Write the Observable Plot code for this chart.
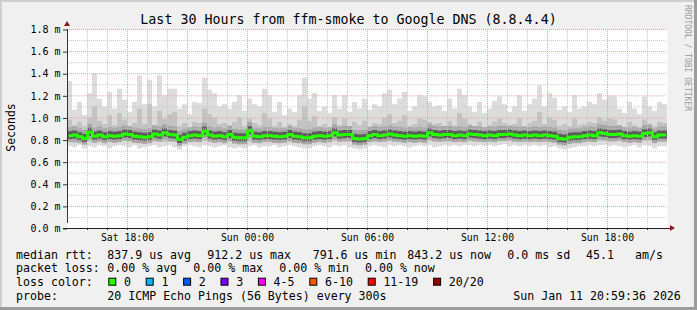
<!DOCTYPE html>
<html><head><meta charset="utf-8">
<script src="https://cdn.jsdelivr.net/npm/d3@7"></script>
<script src="https://cdn.jsdelivr.net/npm/@observablehq/plot@0.6"></script>
<style>html,body{margin:0;padding:0;background:#f0f0f0;} #chart svg{display:block}</style>
</head><body><div id="chart"></div>
<script>
// ---- data ----
const startTime = "2026-01-10T15:00:00Z";
const endTime = "2026-01-11T21:00:00Z";
const stepMinutes = 15;

const medianRtt = [
0.840,0.845,0.830,0.815,0.870,0.835,0.845,0.830,0.840,0.835,
0.840,0.855,0.850,0.835,0.830,0.825,0.830,0.855,0.845,0.865,
0.850,0.845,0.805,0.825,0.840,0.845,0.840,0.880,0.845,0.835,
0.840,0.830,0.850,0.825,0.820,0.820,0.885,0.835,0.830,0.840,
0.840,0.835,0.830,0.835,0.850,0.835,0.830,0.820,0.820,0.835,
0.840,0.835,0.840,0.865,0.845,0.850,0.850,0.815,0.810,0.815,
0.840,0.850,0.840,0.845,0.855,0.845,0.840,0.835,0.840,0.835,
0.840,0.835,0.865,0.850,0.845,0.850,0.850,0.840,0.845,0.840,
0.855,0.850,0.845,0.840,0.845,0.840,0.850,0.850,0.855,0.845,
0.840,0.845,0.840,0.845,0.840,0.845,0.840,0.835,0.815,0.810,
0.825,0.830,0.830,0.840,0.845,0.840,0.865,0.860,0.850,0.850,
0.855,0.840,0.835,0.840,0.835,0.860,0.865,0.830,0.845,0.845];

const smokeMax = [
1.33,1.07,1.14,1.02,1.22,1.40,1.17,1.10,1.23,1.08,
1.26,1.16,1.05,1.14,1.38,1.12,1.34,1.10,1.38,1.20,
1.26,1.26,1.08,1.12,1.03,1.14,1.13,1.36,1.25,1.22,
1.10,1.12,1.08,1.14,1.20,1.06,1.17,1.12,1.10,1.26,
1.20,1.05,1.14,1.02,1.08,1.05,1.20,1.36,1.17,1.22,
1.06,1.10,1.04,1.20,1.08,1.20,1.05,1.14,1.08,1.17,
1.07,1.12,1.10,1.22,1.25,1.12,1.17,1.23,1.06,1.10,
1.20,1.19,1.14,1.10,1.11,1.06,1.17,1.08,1.26,1.20,
1.10,1.05,1.14,1.04,1.08,1.15,1.19,1.12,1.05,1.10,
1.20,1.06,1.12,1.17,1.29,1.10,1.22,1.18,1.07,1.10,
1.05,1.20,1.08,1.10,1.14,1.12,1.22,1.16,1.20,1.19,
1.08,1.04,1.14,1.08,1.03,1.19,1.10,1.06,1.14,1.12];

const smokeUpper = [
0.98,0.93,0.96,0.92,1.00,1.10,0.97,0.94,1.02,0.93,
1.04,0.98,0.92,0.95,1.08,0.94,1.12,0.93,1.06,0.99,
1.03,1.05,0.92,0.95,0.91,0.96,0.95,1.08,1.03,1.00,
0.94,0.95,0.93,0.96,1.00,0.92,0.99,0.95,0.93,1.04,
0.99,0.92,0.96,0.91,0.94,0.92,0.98,1.10,0.97,1.01,
0.92,0.94,0.91,1.00,0.93,0.99,0.92,0.96,0.93,0.97,
0.92,0.95,0.94,1.00,1.03,0.95,0.97,1.02,0.92,0.94,
0.99,0.98,0.96,0.94,0.95,0.92,0.97,0.93,1.04,0.99,
0.94,0.92,0.96,0.91,0.93,0.96,0.99,0.95,0.92,0.94,
0.99,0.92,0.95,0.97,1.05,0.94,1.00,0.98,0.92,0.94,
0.92,0.99,0.93,0.94,0.96,0.95,1.00,0.97,0.99,0.98,
0.93,0.91,0.96,0.93,0.91,0.98,0.94,0.92,0.96,0.95];

const smokeLower = [
0.78,0.77,0.78,0.76,0.78,0.77,0.78,0.77,0.78,0.77,
0.78,0.79,0.78,0.77,0.77,0.76,0.77,0.78,0.78,0.78,
0.78,0.78,0.75,0.77,0.78,0.78,0.78,0.79,0.78,0.77,
0.78,0.77,0.78,0.77,0.76,0.76,0.78,0.77,0.77,0.78,
0.78,0.77,0.77,0.77,0.78,0.77,0.77,0.76,0.76,0.77,
0.78,0.77,0.78,0.79,0.78,0.78,0.78,0.76,0.75,0.76,
0.78,0.78,0.78,0.78,0.79,0.78,0.78,0.77,0.78,0.77,
0.78,0.77,0.79,0.78,0.78,0.78,0.78,0.78,0.78,0.78,
0.79,0.78,0.78,0.78,0.78,0.78,0.79,0.79,0.79,0.78,
0.78,0.78,0.78,0.78,0.78,0.78,0.78,0.77,0.76,0.75,
0.76,0.77,0.77,0.78,0.78,0.78,0.79,0.79,0.78,0.78,
0.79,0.78,0.77,0.78,0.77,0.79,0.79,0.77,0.78,0.78];

const smokeMin = [
0.74,0.73,0.75,0.72,0.74,0.73,0.75,0.74,0.72,0.74,
0.75,0.74,0.73,0.75,0.72,0.73,0.74,0.75,0.73,0.74,
0.75,0.73,0.71,0.74,0.75,0.74,0.73,0.75,0.74,0.73,
0.74,0.75,0.73,0.72,0.73,0.72,0.74,0.75,0.73,0.74,
0.74,0.75,0.73,0.74,0.75,0.74,0.73,0.72,0.72,0.74,
0.75,0.74,0.73,0.75,0.74,0.75,0.73,0.72,0.71,0.72,
0.74,0.75,0.74,0.73,0.75,0.74,0.75,0.74,0.73,0.74,
0.75,0.74,0.75,0.73,0.74,0.75,0.74,0.75,0.74,0.75,
0.75,0.74,0.75,0.74,0.75,0.74,0.75,0.76,0.74,0.75,
0.74,0.75,0.74,0.75,0.74,0.75,0.73,0.74,0.72,0.71,
0.72,0.73,0.74,0.74,0.75,0.74,0.75,0.75,0.74,0.75,
0.74,0.73,0.74,0.75,0.73,0.75,0.74,0.72,0.74,0.74];

const yTickValues = [0, 0.2, 0.4, 0.6, 0.8, 1.0, 1.2, 1.4, 1.6, 1.8];
const yTickLabels = ["0.0 m","0.2 m","0.4 m","0.6 m","0.8 m","1.0 m","1.2 m","1.4 m","1.6 m","1.8 m"];
const yMinorValues = [0.1, 0.3, 0.5, 0.7, 0.9, 1.1, 1.3, 1.5, 1.7];
const xTickTimes = ["2026-01-10T18:00:00Z","2026-01-11T00:00:00Z","2026-01-11T06:00:00Z","2026-01-11T12:00:00Z","2026-01-11T18:00:00Z"];
const xTickLabels = ["Sat 18:00","Sun 00:00","Sun 06:00","Sun 12:00","Sun 18:00"];

const titleText = "Last 30 Hours from ffm-smoke to Google DNS (8.8.4.4)";
const yAxisTitle = "Seconds";
const creditText = "RRDTOOL / TOBI OETIKER";
const rttLabel = "median rtt:";
const rttStats = ["837.9 us avg", "912.2 us max", "791.6 us min", "843.2 us now", "0.0 ms sd", "45.1", "am/s"];
const lossLabel = "packet loss:";
const lossStats = ["0.00 % avg", "0.00 % max", "0.00 % min", "0.00 % now"];
const lossColorLabel = "loss color:";
const lossLabels = ["0","1","2","3","4-5","6-10","11-19","20/20"];
const lossColors = ["#26ff00","#00b8ff","#0059ff","#7e00ff","#ff00f0","#ff5500","#ff0000","#a10000"];
const probeLabel = "probe:";
const probeText = "20 ICMP Echo Pings (56 Bytes) every 300s";
const stampText = "Sun Jan 11 20:59:36 2026";

// ---- build ----
const t0 = new Date(startTime).getTime(), tEnd = new Date(endTime).getTime();
const stepMs = stepMinutes * 60000;
const bins = medianRtt.map((m, i) => ({
  t0: new Date(t0 + i * stepMs), t1: new Date(t0 + (i + 1) * stepMs), tc: new Date(t0 + (i + 0.5) * stepMs),
  med: m, hi: smokeMax[i], up: smokeUpper[i], dn: smokeLower[i], lo: smokeMin[i]
}));
const hourTicks = d3.utcHour.range(new Date(t0 + 3600000), new Date(tEnd));
const minorX = hourTicks.filter(d => d.getUTCHours() % 3 !== 0);
const majorX = hourTicks.filter(d => d.getUTCHours() % 3 === 0);
const xTicks = xTickTimes.map(s => new Date(s));
const mono = "'DejaVu Sans Mono', monospace";

const svg = Plot.plot({
  width: 697, height: 310,
  marginLeft: 67, marginRight: 30, marginTop: 29, marginBottom: 82,
  x: {type: "utc", domain: [new Date(t0), new Date(tEnd)], axis: null},
  y: {domain: [0, 1.8], axis: null},
  style: {background: "#f0f0f0", fontFamily: mono, fontSize: "10px", overflow: "visible", color: "#000"},
  marks: [
    Plot.frame({fill: "#ffffff", stroke: "none"}),
    Plot.rect(bins, {x1: "t0", x2: "t1", y1: "lo", y2: "hi", fill: "#dcdcdc"}),
    Plot.rect(bins, {x1: "t0", x2: "t1", y1: "dn", y2: "up", fill: "#c3c3c3"}),
    Plot.rect(bins, {x1: "t0", x2: "t1", y1: "med", y2: "med", insetTop: -8, insetBottom: -7, fill: "#8a8a8a", fillOpacity: 0.5}),
    Plot.rect(bins, {x1: "t0", x2: "t1", y1: "med", y2: "med", insetTop: -4, insetBottom: -4, fill: "#444", fillOpacity: 0.75}),
    Plot.ruleY(yMinorValues, {stroke: "#c8c8c8", strokeDasharray: "1,1"}),
    Plot.ruleX(minorX, {stroke: "#c8c8c8", strokeDasharray: "1,1"}),
    Plot.ruleY(yTickValues.filter(v => v > 0), {stroke: "#f29a9a", strokeDasharray: "1,1"}),
    Plot.ruleX(majorX, {stroke: "#f29a9a", strokeDasharray: "1,1"}),
    Plot.line(bins, {x: "tc", y: "med", curve: "step", stroke: "#26ff00", strokeWidth: 3}),
    Plot.axisY(yTickValues, {tickFormat: d => yTickLabels[yTickValues.indexOf(d)], tickSize: 4, tickPadding: 3, stroke: "#333", fontSize: 10, fontFamily: mono, fill: "#000", dy: 0.5}),
    Plot.axisX(hourTicks, {tickFormat: () => "", tickSize: 2, stroke: "#333"}),
    Plot.axisX(xTicks, {tickFormat: d => xTickLabels[xTicks.findIndex(t => t.getTime() === d.getTime())], tickSize: 0, tickPadding: 6, fontSize: 9.8, fontFamily: mono, fill: "#000"}),
    Plot.ruleX([new Date(t0)], {y1: 0, y2: 1.8, insetTop: -5, stroke: "#333"}),
    Plot.ruleY([0], {x1: new Date(t0), x2: new Date(tEnd), insetLeft: -4, insetRight: -4, stroke: "#222"})
  ]
});

const xS = svg.scale("x"), yS = svg.scale("y");
const X0 = xS.apply(new Date(t0)), X1 = xS.apply(new Date(tEnd)), Y0 = yS.apply(0), Ytop = yS.apply(1.8);
const S = d3.select(svg);
// arrows
S.append("path").attr("d", `M${X0 - 3},${Ytop - 3} L${X0 + 3},${Ytop - 3} L${X0},${Ytop - 8} Z`).attr("fill", "#8b1c1c");
S.append("path").attr("d", `M${X1 + 3},${Y0 - 3} L${X1 + 3},${Y0 + 3} L${X1 + 8},${Y0} Z`).attr("fill", "#8b1c1c");

function txt(x, y, s, opts = {}) {
  const t = S.append("text").attr("x", x).attr("y", y).text(s)
    .attr("font-family", mono).attr("font-size", opts.size || 11.6).attr("fill", opts.fill || "#000")
    .attr("text-anchor", opts.anchor || "start");
  if (opts.transform) t.attr("transform", opts.transform);
  return t;
}
// title
txt(348.5, 24, titleText, {size: 13.3, anchor: "middle"});
// y axis title
txt(0, 0, yAxisTitle, {size: 11.5, anchor: "middle", transform: "translate(15.3,127.5) rotate(-90)"});
// credit
txt(0, 0, creditText, {size: 8, fill: "#9a9a9a", transform: "translate(685,5) rotate(90)"});

// legend
const L = 16, C = 107.3, b1 = 258.5, lh = 13.7;
txt(L, b1, rttLabel);
const rttX = [C, 207.3, 312.7, 407.3, 507.3, 586, 635];
rttStats.forEach((s, i) => txt(rttX[i], b1, s));
txt(L, b1 + lh, lossLabel);
const lossX = [C, 193.3, 279.3, 365];
lossStats.forEach((s, i) => txt(lossX[i], b1 + lh, s));
txt(L, b1 + 2 * lh, lossColorLabel);
let bx = 108.8;
lossLabels.forEach((s, i) => {
  S.append("rect").attr("x", bx).attr("y", b1 + 2 * lh - 7.7).attr("width", 7).attr("height", 7)
    .attr("fill", lossColors[i]).attr("stroke", "#000").attr("stroke-width", 1);
  txt(bx + 15.2, b1 + 2 * lh, s);
  bx += 15.2 + 7 * s.length + 15.2;
});
txt(L, b1 + 3 * lh, probeLabel);
txt(C, b1 + 3 * lh, probeText);
txt(513.3, b1 + 3 * lh, stampText);

// border
S.append("rect").attr("x", 0).attr("y", 0).attr("width", 697).attr("height", 2).attr("fill", "#cfcfcf");
S.append("rect").attr("x", 0).attr("y", 0).attr("width", 2).attr("height", 310).attr("fill", "#cfcfcf");
S.append("rect").attr("x", 694).attr("y", 0).attr("width", 3).attr("height", 310).attr("fill", "#9c9c9c");
S.append("rect").attr("x", 0).attr("y", 307).attr("width", 697).attr("height", 3).attr("fill", "#9c9c9c");

document.getElementById("chart").appendChild(svg);
</script>
</body></html>
